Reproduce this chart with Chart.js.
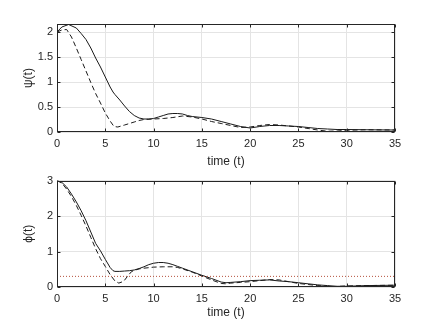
<!DOCTYPE html>
<html>
<head>
<meta charset="utf-8">
<script src="https://cdn.jsdelivr.net/npm/chart.js@4"></script>
<style>
  body { margin: 0; background: #fff; }
  #wrap { position: relative; width: 436px; height: 327px; }
  .box { position: absolute; left: 0; width: 436px; }
</style>
</head>
<body>
<div id="wrap">
  <div class="box" style="top:0;height:170px"><canvas id="psiChart"></canvas></div>
  <div class="box" style="top:170px;height:157px"><canvas id="phiChart"></canvas></div>
</div>
<script>
// psi(t) - solid
const tPsiSolid = [0, 0.5, 1.2, 2, 2.5, 3, 3.5, 4, 4.5, 5, 5.5, 5.8, 6, 6.5, 7, 7.5, 8, 8.5, 9, 9.5, 10, 10.5, 11, 11.5, 12, 12.5, 13, 13.5, 14, 14.5, 15, 16, 17, 18, 19, 20, 21, 22, 23, 24, 25, 26, 27, 28, 29, 30, 32, 35];
const psiSolid = [2.00, 2.10, 2.15, 2.08, 1.97, 1.85, 1.68, 1.48, 1.30, 1.10, 0.90, 0.80, 0.75, 0.64, 0.52, 0.41, 0.33, 0.28, 0.26, 0.26, 0.27, 0.30, 0.33, 0.36, 0.37, 0.37, 0.36, 0.33, 0.31, 0.30, 0.29, 0.26, 0.21, 0.16, 0.11, 0.08, 0.11, 0.13, 0.13, 0.12, 0.11, 0.09, 0.07, 0.06, 0.05, 0.05, 0.045, 0.04];

// psi(t) - dashed
const tPsiDashed = [0, 0.5, 1, 1.5, 2, 2.5, 3, 3.5, 4, 4.5, 5, 5.5, 5.9, 6.3, 7, 7.5, 8, 8.5, 9, 10, 11, 12, 13, 14, 15, 16, 17, 18, 19, 20, 21, 22, 23, 24, 25, 26, 27, 28, 29, 30, 32, 35];
const psiDashed = [2.00, 2.04, 2.05, 1.90, 1.68, 1.45, 1.22, 0.99, 0.77, 0.58, 0.38, 0.22, 0.11, 0.10, 0.14, 0.17, 0.20, 0.23, 0.25, 0.26, 0.27, 0.29, 0.32, 0.30, 0.26, 0.21, 0.17, 0.13, 0.09, 0.10, 0.13, 0.15, 0.14, 0.12, 0.10, 0.07, 0.04, 0.015, 0.02, 0.035, 0.045, 0.04];

// phi(t) - solid
const tPhiSolid = [0, 0.5, 1, 1.5, 2, 2.5, 3, 3.5, 4, 4.5, 5, 5.5, 5.8, 6, 6.5, 7, 7.5, 8, 8.5, 9, 9.5, 10, 10.5, 11, 11.5, 12, 12.5, 13, 14, 15, 16, 17, 17.5, 18, 19, 20, 21, 22, 23, 24, 25, 26, 27, 28, 29, 30, 32, 35];
const phiSolid = [3.00, 2.95, 2.82, 2.62, 2.40, 2.15, 1.87, 1.55, 1.23, 1.02, 0.78, 0.55, 0.46, 0.44, 0.44, 0.45, 0.46, 0.48, 0.52, 0.57, 0.63, 0.67, 0.69, 0.69, 0.67, 0.63, 0.58, 0.53, 0.43, 0.33, 0.24, 0.14, 0.12, 0.13, 0.15, 0.18, 0.19, 0.20, 0.17, 0.15, 0.12, 0.09, 0.06, 0.04, 0.02, 0.02, 0.04, 0.05];

// phi(t) - dashed
const tPhiDashed = [0, 0.5, 1, 1.5, 2, 2.5, 3, 3.5, 4, 4.5, 5, 5.5, 6, 6.4, 6.9, 7.3, 7.7, 8, 8.5, 9, 10, 11, 12, 12.5, 13, 14, 15, 16, 17, 17.5, 18, 19, 20, 21, 22, 23, 24, 25, 26, 27, 28, 28.5, 29, 30, 32, 35];
const phiDashed = [3.00, 2.93, 2.76, 2.55, 2.30, 2.02, 1.72, 1.40, 1.08, 0.80, 0.58, 0.35, 0.17, 0.11, 0.16, 0.30, 0.43, 0.47, 0.51, 0.53, 0.56, 0.57, 0.57, 0.55, 0.51, 0.42, 0.31, 0.20, 0.10, 0.09, 0.11, 0.13, 0.15, 0.18, 0.21, 0.20, 0.15, 0.10, 0.07, 0.04, 0.02, 0.01, 0.015, 0.03, 0.04, 0.05];

// reference level (red dotted) in lower plot
const phiRefLevel = 0.3;

const xTicksStep = 5;
const tMin = 0, tMax = 35;

const FONT = "'Liberation Sans', Arial, Helvetica, sans-serif";
const AXIS_COLOR = '#262626';
const GRID_COLOR = '#e4e4e4';

function pts(xs, ys) {
    return xs.map((x, i) => ({ x: x, y: ys[i] }));
}

// MATLAB style box with inward tick marks
const boxPlugin = {
    id: 'matlabBox',
    afterDraw(chart) {
        const { ctx, chartArea: a, scales } = chart;
        ctx.save();
        ctx.strokeStyle = AXIS_COLOR;
        ctx.lineWidth = 1;
        const L = Math.round(a.left) + 0.5, R = Math.round(a.right) - 0.5;
        const T = Math.round(a.top) + 0.5, B = Math.round(a.bottom) - 0.5;
        ctx.strokeRect(L, T, R - L, B - T);
        ctx.beginPath();
        scales.x.ticks.forEach(tk => {
            const px = Math.round(scales.x.getPixelForValue(tk.value)) + 0.5;
            ctx.moveTo(px, B); ctx.lineTo(px, B - 3);
            ctx.moveTo(px, T); ctx.lineTo(px, T + 3);
        });
        scales.y.ticks.forEach(tk => {
            const py = Math.round(scales.y.getPixelForValue(tk.value)) + 0.5;
            ctx.moveTo(L, py); ctx.lineTo(L + 3, py);
            ctx.moveTo(R, py); ctx.lineTo(R - 3, py);
        });
        ctx.stroke();
        ctx.restore();
    }
};

function makeOptions(yMax, yStep, yLabel, pad, xHeight) {
    return {
        responsive: true,
        maintainAspectRatio: false,
        animation: false,
        layout: { padding: { top: pad.top, right: 41, bottom: pad.bottom, left: 0 } },
        plugins: { legend: { display: false }, tooltip: { enabled: false } },
        elements: { point: { radius: 0 }, line: { tension: 0 } },
        scales: {
            x: {
                type: 'linear',
                min: tMin,
                max: tMax,
                grid: { color: GRID_COLOR, drawTicks: false },
                border: { display: false },
                ticks: {
                    stepSize: xTicksStep,
                    padding: 5,
                    color: AXIS_COLOR,
                    font: { family: FONT, size: 11 },
                    maxRotation: 0
                },
                title: {
                    display: true,
                    text: 'time (t)',
                    color: AXIS_COLOR,
                    font: { family: FONT, size: 12 },
                    padding: 0
                },
                afterFit: s => { s.height = xHeight; }
            },
            y: {
                min: 0,
                max: yMax,
                grid: { color: GRID_COLOR, drawTicks: false },
                border: { display: false },
                ticks: {
                    stepSize: yStep,
                    includeBounds: false,
                    padding: 4,
                    color: AXIS_COLOR,
                    font: { family: FONT, size: 11 },
                    callback: v => String(v)
                },
                title: {
                    display: true,
                    text: yLabel,
                    color: AXIS_COLOR,
                    font: { family: FONT, size: 12 },
                    padding: { top: 21, bottom: 0 }
                },
                afterFit: s => { s.width = 57; }
            }
        }
    };
}

// Upper plot: psi(t)
new Chart(document.getElementById('psiChart'), {
    type: 'line',
    data: {
        datasets: [
            {
                data: pts(tPsiSolid, psiSolid),
                borderColor: '#1a1a1a',
                borderWidth: 1
            },
            {
                data: pts(tPsiDashed, psiDashed),
                borderColor: '#1a1a1a',
                borderWidth: 1,
                borderDash: [5, 3]
            }
        ]
    },
    options: makeOptions(2.16, 0.5, 'ψ(t)', { top: 24, bottom: 1 }, 37),
    plugins: [boxPlugin]
});

// Lower plot: phi(t)
new Chart(document.getElementById('phiChart'), {
    type: 'line',
    data: {
        datasets: [
            {
                data: [{ x: tMin, y: phiRefLevel }, { x: tMax, y: phiRefLevel }],
                borderColor: '#b4503c',
                borderWidth: 1,
                borderDash: [1, 2]
            },
            {
                data: pts(tPhiSolid, phiSolid),
                borderColor: '#1a1a1a',
                borderWidth: 1
            },
            {
                data: pts(tPhiDashed, phiDashed),
                borderColor: '#1a1a1a',
                borderWidth: 1,
                borderDash: [5, 3]
            }
        ]
    },
    options: makeOptions(3, 1, 'ϕ(t)', { top: 9.5, bottom: 7 }, 33),
    plugins: [boxPlugin]
});
</script>
</body>
</html>
